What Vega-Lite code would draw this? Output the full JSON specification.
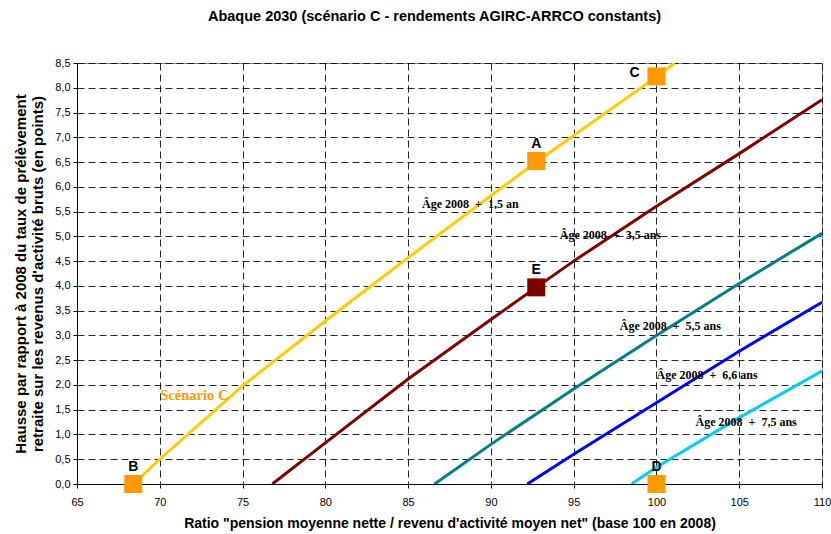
{
  "$schema": "https://vega.github.io/schema/vega-lite/v6.json",
  "width": 745,
  "height": 421,
  "autosize": "none",
  "padding": {"left": 77, "top": 63, "right": 9, "bottom": 50},
  "background": "#ffffff",
  "title": {
    "text": "Abaque 2030 (scénario C - rendements AGIRC-ARRCO constants)",
    "font": "Liberation Sans",
    "fontSize": 14.5,
    "fontWeight": "bold",
    "color": "#000000",
    "anchor": "middle",
    "offset": 33,
    "dx": -15
  },
  "config": {
    "view": {"stroke": "#888888", "strokeWidth": 1},
    "axis": {
      "domainColor": "#000000",
      "domainWidth": 1,
      "tickColor": "#000000",
      "tickSize": 4,
      "labelFont": "Liberation Sans",
      "labelFontSize": 11,
      "labelColor": "#000000",
      "titleFont": "Liberation Sans",
      "titleFontWeight": "bold",
      "titleColor": "#000000",
      "grid": true,
      "gridColor": "#000000",
      "gridDash": [7, 4],
      "gridOpacity": 0.85,
      "gridWidth": 1
    }
  },
  "datasets": {
    "lines": [
      {"series": "Âge 2008 + 1,5 an", "x": 68.4, "y": 0},
      {"series": "Âge 2008 + 1,5 an", "x": 70, "y": 0.5},
      {"series": "Âge 2008 + 1,5 an", "x": 75, "y": 1.98},
      {"series": "Âge 2008 + 1,5 an", "x": 80, "y": 3.29},
      {"series": "Âge 2008 + 1,5 an", "x": 85, "y": 4.57},
      {"series": "Âge 2008 + 1,5 an", "x": 90, "y": 5.82},
      {"series": "Âge 2008 + 1,5 an", "x": 92.74, "y": 6.5},
      {"series": "Âge 2008 + 1,5 an", "x": 100, "y": 8.22},
      {"series": "Âge 2008 + 1,5 an", "x": 101.1, "y": 8.5},
      {"series": "Âge 2008 + 3,5 ans", "x": 76.8, "y": 0},
      {"series": "Âge 2008 + 3,5 ans", "x": 80, "y": 0.83},
      {"series": "Âge 2008 + 3,5 ans", "x": 85, "y": 2.12},
      {"series": "Âge 2008 + 3,5 ans", "x": 90, "y": 3.32},
      {"series": "Âge 2008 + 3,5 ans", "x": 92.74, "y": 3.97},
      {"series": "Âge 2008 + 3,5 ans", "x": 95, "y": 4.5},
      {"series": "Âge 2008 + 3,5 ans", "x": 100, "y": 5.61},
      {"series": "Âge 2008 + 3,5 ans", "x": 105, "y": 6.67},
      {"series": "Âge 2008 + 3,5 ans", "x": 110, "y": 7.76},
      {"series": "Âge 2008 + 5,5 ans", "x": 86.6, "y": 0},
      {"series": "Âge 2008 + 5,5 ans", "x": 90, "y": 0.8},
      {"series": "Âge 2008 + 5,5 ans", "x": 95, "y": 1.92},
      {"series": "Âge 2008 + 5,5 ans", "x": 100, "y": 3.0},
      {"series": "Âge 2008 + 5,5 ans", "x": 105, "y": 4.05},
      {"series": "Âge 2008 + 5,5 ans", "x": 110, "y": 5.06},
      {"series": "Âge 2008 + 6,6 ans", "x": 92.2, "y": 0},
      {"series": "Âge 2008 + 6,6 ans", "x": 95, "y": 0.6},
      {"series": "Âge 2008 + 6,6 ans", "x": 100, "y": 1.64},
      {"series": "Âge 2008 + 6,6 ans", "x": 105, "y": 2.68},
      {"series": "Âge 2008 + 6,6 ans", "x": 110, "y": 3.67},
      {"series": "Âge 2008 + 7,5 ans", "x": 98.5, "y": 0},
      {"series": "Âge 2008 + 7,5 ans", "x": 100, "y": 0.34},
      {"series": "Âge 2008 + 7,5 ans", "x": 105, "y": 1.34},
      {"series": "Âge 2008 + 7,5 ans", "x": 110, "y": 2.28}
    ],
    "lineLabels": [
      {"label": "Âge 2008 \u00a0+\u00a0 1,5 an", "x": 88.76, "y": 5.66},
      {"label": "Âge 2008 \u00a0+\u00a0 3,5 ans", "x": 97.22, "y": 5.02},
      {"label": "Âge 2008 \u00a0+\u00a0 5,5 ans", "x": 100.84, "y": 3.2},
      {"label": "Âge 2008 \u00a0+\u00a0 6,6 ans", "x": 103.06, "y": 2.21},
      {"label": "Âge 2008 \u00a0+\u00a0 7,5 ans", "x": 105.42, "y": 1.26}
    ],
    "scenario": [
      {"label": "Scénario C", "x": 72.09, "y": 1.78}
    ],
    "points": [
      {"label": "A", "kind": "scenario", "x": 92.74, "y": 6.52},
      {"label": "B", "kind": "scenario", "x": 68.4, "y": 0},
      {"label": "C", "kind": "scenario", "x": 100, "y": 8.23},
      {"label": "D", "kind": "scenario", "x": 100, "y": 0},
      {"label": "E", "kind": "variante", "x": 92.74, "y": 3.97}
    ]
  },
  "encoding": {
    "x": {
      "field": "x",
      "type": "quantitative",
      "scale": {"domain": [65, 110], "nice": false, "zero": false},
      "axis": {
        "values": [65, 70, 75, 80, 85, 90, 95, 100, 105, 110],
        "title": "Ratio \"pension moyenne nette / revenu d'activité moyen net\" (base 100 en 2008)",
        "titleFontSize": 14,
        "labelPadding": 8,
        "titlePadding": 9,
        "labelFlush": false
      }
    },
    "y": {
      "field": "y",
      "type": "quantitative",
      "scale": {"domain": [0, 8.5], "nice": false, "zero": false},
      "axis": {
        "values": [0, 0.5, 1, 1.5, 2, 2.5, 3, 3.5, 4, 4.5, 5, 5.5, 6, 6.5, 7, 7.5, 8, 8.5],
        "labelExpr": "replace(format(datum.value, '.1f'), '.', ',')",
        "title": ["Hausse par rapport à 2008 du taux de prélèvement", "retraite sur les revenus d'activité bruts (en points)"],
        "titleFontSize": 15,
        "titleLineHeight": 17,
        "labelPadding": 3,
        "titlePadding": 9,
        "labelFlush": false
      }
    }
  },
  "layer": [
    {
      "data": {"name": "lines"},
      "mark": {"type": "line", "strokeWidth": 3, "clip": true},
      "encoding": {
        "color": {
          "field": "series",
          "type": "nominal",
          "scale": {
            "domain": ["Âge 2008 + 1,5 an", "Âge 2008 + 3,5 ans", "Âge 2008 + 5,5 ans", "Âge 2008 + 6,6 ans", "Âge 2008 + 7,5 ans"],
            "range": ["#FFCC00", "#800000", "#008080", "#0000FF", "#00CCFF"]
          },
          "legend": null
        }
      }
    },
    {
      "data": {"name": "lineLabels"},
      "mark": {"type": "text", "font": "Liberation Serif", "fontSize": 12, "fontWeight": "bold", "color": "#000000"},
      "encoding": {"text": {"field": "label", "type": "nominal"}}
    },
    {
      "data": {"name": "scenario"},
      "mark": {"type": "text", "font": "Liberation Serif", "fontSize": 14.5, "fontWeight": "bold", "color": "#FF9900"},
      "encoding": {"text": {"field": "label", "type": "nominal"}}
    },
    {
      "data": {"name": "points"},
      "mark": {"type": "square", "size": 324, "filled": true, "opacity": 1},
      "encoding": {
        "fill": {
          "field": "kind",
          "type": "nominal",
          "scale": {"domain": ["scenario", "variante"], "range": ["#FF9900", "#800000"]},
          "legend": null
        }
      }
    },
    {
      "data": {"name": "points"},
      "transform": [{"filter": "datum.label != 'C'"}],
      "mark": {"type": "text", "font": "Liberation Sans", "fontSize": 14, "fontWeight": "bold", "color": "#000000", "dy": -17},
      "encoding": {"text": {"field": "label", "type": "nominal"}}
    },
    {
      "data": {"name": "points"},
      "transform": [{"filter": "datum.label == 'C'"}],
      "mark": {"type": "text", "font": "Liberation Sans", "fontSize": 14, "fontWeight": "bold", "color": "#000000", "dx": -22, "dy": -3},
      "encoding": {"text": {"field": "label", "type": "nominal"}}
    }
  ],
  "resolve": {"scale": {"color": "independent", "fill": "independent"}}
}
